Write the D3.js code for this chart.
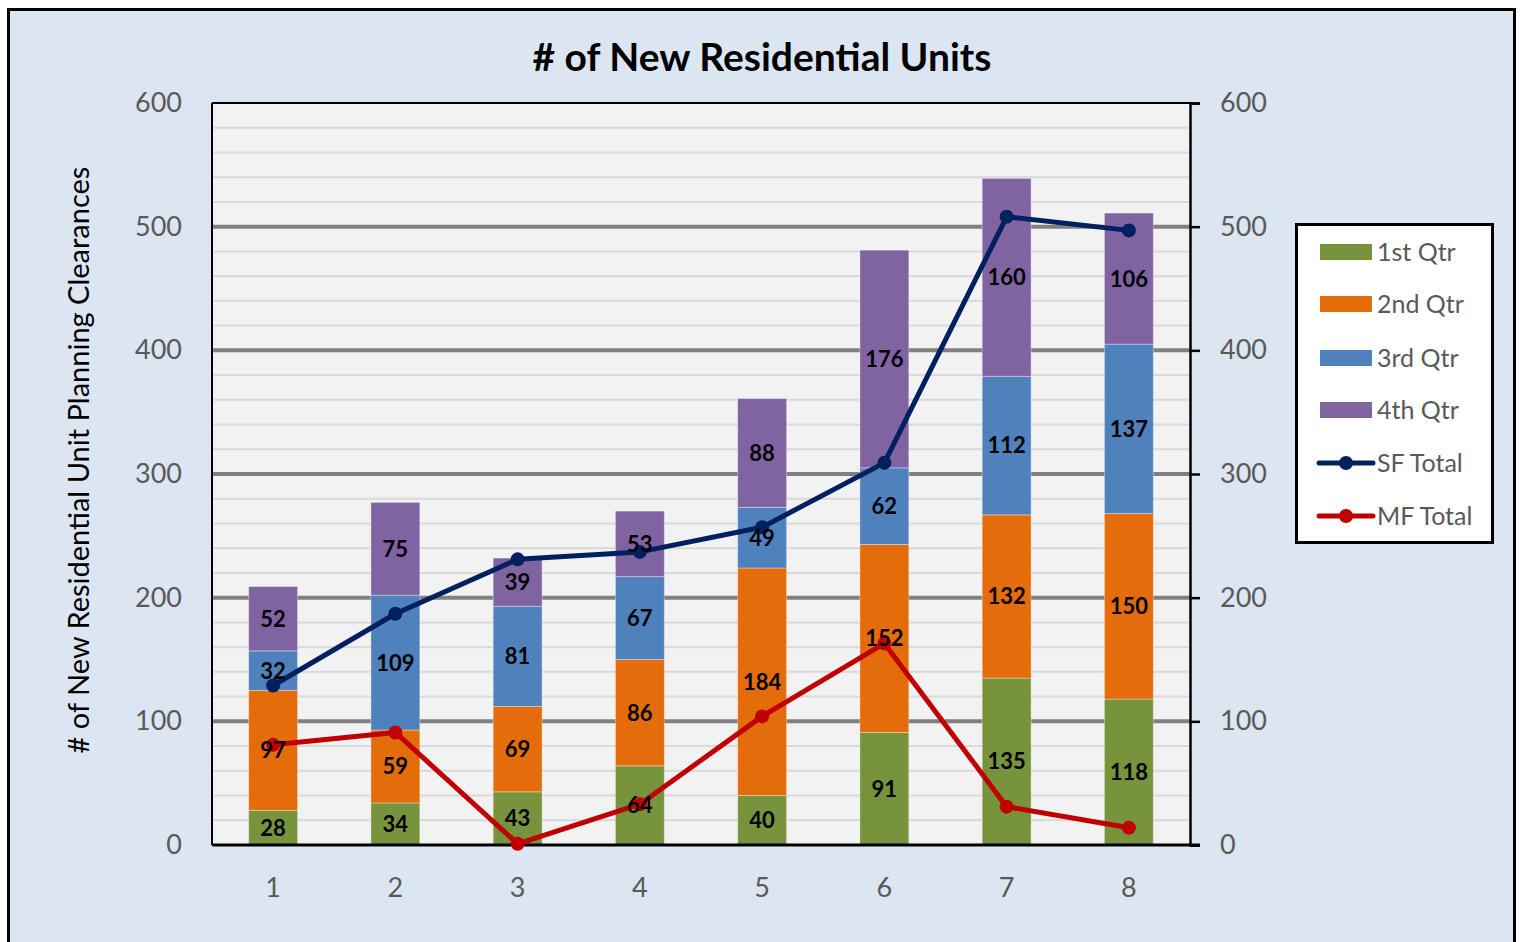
<!DOCTYPE html>
<html lang="en">
<head>
  <meta charset="utf-8">
  <script src="https://d3js.org/d3.v7.min.js"></script>
  <style>
    body { margin: 0; background: #fff; }
    text { font-family: Lato, "Open Sans", sans-serif; }
  </style>
</head>
<body>
<script>

var width = 1522,
    height = 942;

// data
var periods = ["1", "2", "3", "4", "5", "6", "7", "8"];
var qtr1 = [28, 34, 43, 64, 40, 91, 135, 118];
var qtr2 = [97, 59, 69, 86, 184, 152, 132, 150];
var qtr3 = [32, 109, 81, 67, 49, 62, 112, 137];
var qtr4 = [52, 75, 39, 53, 88, 176, 160, 106];
var sfTotal = [129, 187, 231, 237, 257, 309, 508, 497];
var mfTotal = [81, 91, 1, 33, 104, 163, 31, 14];
var yTicks = [0, 100, 200, 300, 400, 500, 600];

var seriesNames = ["1st Qtr", "2nd Qtr", "3rd Qtr", "4th Qtr"];
var seriesColors = ["#77933c", "#e46c0a", "#4f81bd", "#8064a2"];
var lineNames = ["SF Total", "MF Total"];
var lineColors = ["#002060", "#c00000"];

var plot = {left: 212, right: 1190, top: 103, bottom: 845};

var svg = d3.select("body").append("svg")
    .attr("width", width)
    .attr("height", height);

// chart background + outer border
svg.append("rect")
    .attr("x", 8.5).attr("y", 9.5)
    .attr("width", 1506).attr("height", 960)
    .attr("fill", "#dce6f2")
    .attr("stroke", "#000")
    .attr("stroke-width", 3);

var x = d3.scaleBand()
    .domain(periods)
    .range([plot.left, plot.right])
    .paddingInner(0.6)
    .paddingOuter(0.3);

var y = d3.scaleLinear()
    .domain([0, 600])
    .range([plot.bottom, plot.top]);

// plot area
svg.append("rect")
    .attr("x", plot.left).attr("y", plot.top)
    .attr("width", plot.right - plot.left)
    .attr("height", plot.bottom - plot.top)
    .attr("fill", "#f2f2f2");

// minor grid
var minor = d3.range(20, 600, 20).filter(function(v) { return v % 100 !== 0; });
svg.append("g").selectAll("line")
    .data(minor)
  .enter().append("line")
    .attr("x1", plot.left).attr("x2", plot.right)
    .attr("y1", function(d) { return y(d); })
    .attr("y2", function(d) { return y(d); })
    .attr("stroke", "#d9d9d9")
    .attr("stroke-width", 2);

// major grid
svg.append("g").selectAll("line")
    .data(yTicks.filter(function(v) { return v > 0 && v < 600; }))
  .enter().append("line")
    .attr("x1", plot.left).attr("x2", plot.right)
    .attr("y1", function(d) { return y(d); })
    .attr("y2", function(d) { return y(d); })
    .attr("stroke", "#808080")
    .attr("stroke-width", 4);

// stacked bars
var rows = periods.map(function(p, i) {
  return {period: p, q1: qtr1[i], q2: qtr2[i], q3: qtr3[i], q4: qtr4[i]};
});
var stack = d3.stack().keys(["q1", "q2", "q3", "q4"]);
var layers = stack(rows);

var layerG = svg.append("g").selectAll("g")
    .data(layers)
  .enter().append("g")
    .attr("fill", function(d, i) { return seriesColors[i]; });

layerG.selectAll("rect")
    .data(function(d) { return d; })
  .enter().append("rect")
    .attr("x", function(d) { return x(d.data.period); })
    .attr("width", x.bandwidth())
    .attr("y", function(d) { return y(d[1]); })
    .attr("height", function(d) { return y(d[0]) - y(d[1]); })
    .attr("stroke", "rgba(255,255,255,0.35)")
    .attr("stroke-width", 1);

// axes lines
svg.append("line")
    .attr("x1", plot.left).attr("x2", plot.left)
    .attr("y1", plot.top).attr("y2", plot.bottom)
    .attr("stroke", "#000").attr("stroke-width", 2);
svg.append("line")
    .attr("x1", plot.left).attr("x2", plot.right)
    .attr("y1", plot.top).attr("y2", plot.top)
    .attr("stroke", "#000").attr("stroke-width", 2);

var yLeft = d3.axisLeft(y).tickValues(yTicks).tickSize(0).tickPadding(30);
var gl = svg.append("g")
    .attr("transform", "translate(" + plot.left + ",0)")
    .call(yLeft);
gl.select(".domain").remove();

var yRight = d3.axisRight(y).tickValues(yTicks).tickSize(10).tickPadding(20);
var gr = svg.append("g")
    .attr("transform", "translate(" + plot.right + ",0)")
    .call(yRight);
gr.select(".domain").attr("stroke", "#000").attr("stroke-width", 2.5);
gr.selectAll(".tick line").attr("stroke", "#000").attr("stroke-width", 2.5);

var xAxis = d3.axisBottom(x).tickSize(0).tickPadding(33);
var gx = svg.append("g")
    .attr("transform", "translate(0," + plot.bottom + ")")
    .call(xAxis);
gx.select(".domain").remove();
svg.append("line")
    .attr("x1", plot.left).attr("x2", plot.right + 10)
    .attr("y1", plot.bottom).attr("y2", plot.bottom)
    .attr("stroke", "#000").attr("stroke-width", 3);

svg.selectAll(".tick text")
    .attr("fill", "#595959")
    .style("font-size", "27px")
    .style("font-family", "Lato, 'Open Sans', sans-serif");

// lines
var line = d3.line()
    .x(function(d, i) { return x(periods[i]) + x.bandwidth() / 2; })
    .y(function(d) { return y(d); });

[sfTotal, mfTotal].forEach(function(vals, k) {
  svg.append("path")
      .datum(vals)
      .attr("d", line)
      .attr("fill", "none")
      .attr("stroke", lineColors[k])
      .attr("stroke-width", 5)
      .attr("stroke-linejoin", "round");
  svg.append("g").selectAll("circle")
      .data(vals)
    .enter().append("circle")
      .attr("cx", function(d, i) { return x(periods[i]) + x.bandwidth() / 2; })
      .attr("cy", function(d) { return y(d); })
      .attr("r", 7)
      .attr("fill", lineColors[k]);
});

// bar value labels (drawn above the lines)
var labelG = svg.append("g").selectAll("g")
    .data(layers)
  .enter().append("g");

labelG.selectAll("text")
    .data(function(d) { return d; })
  .enter().append("text")
    .attr("x", function(d) { return x(d.data.period) + x.bandwidth() / 2; })
    .attr("y", function(d) { return (y(d[0]) + y(d[1])) / 2; })
    .attr("dy", "0.36em")
    .attr("text-anchor", "middle")
    .attr("fill", "#000")
    .style("font-size", "22px")
    .style("font-weight", "bold")
    .text(function(d) { return d[1] - d[0]; });

// title
svg.append("text")
    .attr("x", 762)
    .attr("y", 71)
    .attr("text-anchor", "middle")
    .style("font-size", "39px")
    .style("font-weight", "bold")
    .attr("fill", "#000")
    .text("# of New Residential Units");

// y axis title
svg.append("text")
    .attr("transform", "translate(89,460) rotate(-90)")
    .attr("text-anchor", "middle")
    .style("font-size", "29px")
    .attr("fill", "#000")
    .text("# of New Residential Unit Planning Clearances");

// legend
var legend = svg.append("g");
legend.append("rect")
    .attr("x", 1296.5).attr("y", 224.5)
    .attr("width", 196).attr("height", 318)
    .attr("fill", "#fff")
    .attr("stroke", "#000")
    .attr("stroke-width", 3);

var legendY = [252, 304, 358, 410, 463, 516];

seriesNames.forEach(function(name, i) {
  legend.append("rect")
      .attr("x", 1320).attr("y", legendY[i] - 8)
      .attr("width", 52).attr("height", 16)
      .attr("fill", seriesColors[i]);
  legend.append("text")
      .attr("x", 1377).attr("y", legendY[i])
      .attr("dy", "0.36em")
      .attr("fill", "#595959")
      .style("font-size", "25px")
      .text(name);
});

lineNames.forEach(function(name, k) {
  var ly = legendY[4 + k];
  legend.append("line")
      .attr("x1", 1319).attr("x2", 1373)
      .attr("y1", ly).attr("y2", ly)
      .attr("stroke", lineColors[k])
      .attr("stroke-width", 5)
      .attr("stroke-linecap", "round");
  legend.append("circle")
      .attr("cx", 1346).attr("cy", ly).attr("r", 7)
      .attr("fill", lineColors[k]);
  legend.append("text")
      .attr("x", 1377).attr("y", ly)
      .attr("dy", "0.36em")
      .attr("fill", "#595959")
      .style("font-size", "25px")
      .text(name);
});

</script>
</body>
</html>
